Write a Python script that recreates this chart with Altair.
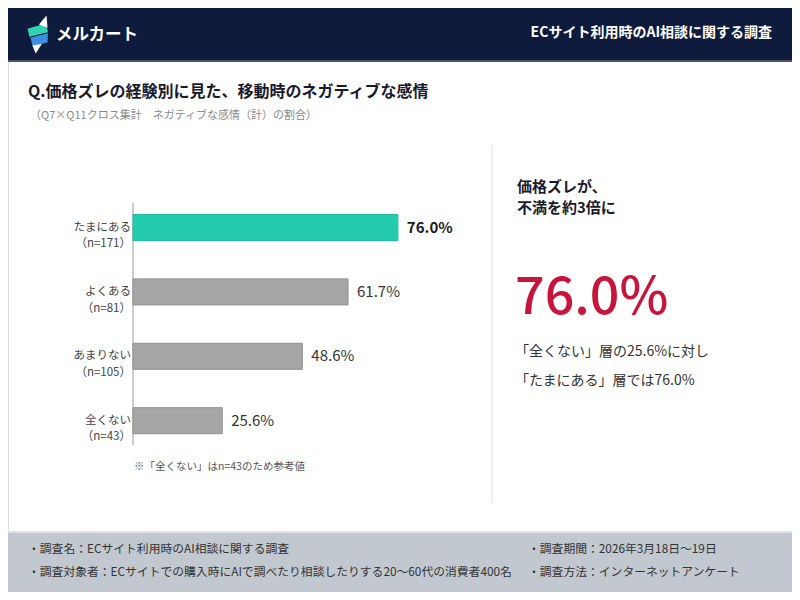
import altair as alt
import pandas as pd

FONT = "Noto Sans CJK JP"
O = 8  # page margin offset (screen coords -> chart coords)

# ---------------- data ----------------
categories = ["たまにある", "よくある", "あまりない", "全くない"]
sample_sizes = ["（n=171）", "（n=81）", "（n=105）", "（n=43）"]
values = [76.0, 61.7, 48.6, 25.6]
highlight = ["hi", "lo", "lo", "lo"]

header_title = "ECサイト利用時のAI相談に関する調査"
brand = "メルカート"
title = "Q.価格ズレの経験別に見た、移動時のネガティブな感情"
subtitle = "（Q7×Q11クロス集計　ネガティブな感情（計）の割合）"
note = "※「全くない」はn=43のため参考値"
side_head = ["価格ズレが、", "不満を約3倍に"]
side_big = "76.0%"
side_lines = ["「全くない」層の25.6%に対し", "「たまにある」層では76.0%"]
footer_left = ["・調査名：ECサイト利用時のAI相談に関する調査",
               "・調査対象者：ECサイトでの購入時にAIで調べたり相談したりする20〜60代の消費者400名"]
footer_right = ["・調査期間：2026年3月18日〜19日", "・調査方法：インターネットアンケート"]

df = pd.DataFrame({
    "cat": categories,
    "label": [c + "\n" + n for c, n in zip(categories, sample_sizes)],
    "value": values,
    "hl": highlight,
})
one = pd.DataFrame({"k": [0]})

xscale = alt.Scale(domain=[0, 100], range=[133 - O, 481.5 - O])
yscale = alt.Scale(range=[195.3 - O, 452.9 - O], paddingInner=0.596, paddingOuter=0.298)


def T(s, x, y, size, color, weight="normal", align="left", baseline="middle"):
    return alt.Chart(one).mark_text(
        text=s, align=align, baseline=baseline, fontSize=size, color=color,
        fontWeight=weight, font=FONT
    ).encode(x=alt.value(x - O), y=alt.value(y - O))


def R(x1, x2, y1, y2, color):
    return alt.Chart(one).mark_rect(color=color).encode(
        x=alt.value(x1 - O), x2=alt.value(x2 - O), y=alt.value(y1 - O), y2=alt.value(y2 - O)
    )


def ICON(path, cx, cy, size, color):
    return alt.Chart(one).mark_point(
        shape=path, size=size, filled=True, color=color, opacity=1, strokeWidth=0
    ).encode(x=alt.value(cx - O), y=alt.value(cy - O))


layers = []
# header
layers.append(R(8, 792, 8, 60, "#0f1b3d"))
layers.append(R(8, 792, 60, 62, "#4d5466"))
# logo icon
cx, cy, sz = 38, 34.5, 1444
layers.append(ICON("M-0.55,-0.30 L0.40,-0.58 L0.53,-0.12 L-0.45,0.12 Z", cx, cy, sz, "#2fd3b0"))
layers.append(ICON("M-0.40,0.16 L0.53,-0.06 L0.50,0.42 L-0.28,0.62 Z", cx, cy, sz, "#3a8fe0"))
layers.append(ICON("M0.05,-0.52 L0.45,-1.0 L0.50,-0.36 Z", cx, cy, sz, "#ffffff"))
layers.append(ICON("M-0.30,0.56 L-0.12,1.0 L0.20,0.50 Z", cx, cy, sz, "#ffffff"))
layers.append(T(brand, 56, 35, 16.5, "#ffffff", weight="bold"))
layers.append(T(header_title, 772, 33, 14, "#ffffff", weight="bold", align="right"))

# titles
layers.append(T(title, 28, 92, 16, "#1a1a2e", weight="bold"))
layers.append(T(subtitle, 30, 116, 11, "#8a8a8a"))

# divider
layers.append(R(491.5, 492.5, 145, 503, "#dedede"))
# axis line
layers.append(R(132.5, 133.5, 203, 445, "#999999"))

# bars
bars = alt.Chart(df).mark_bar(strokeWidth=1).encode(
    x=alt.X("value:Q", scale=xscale, axis=None),
    y=alt.Y("cat:N", sort=categories, scale=yscale, axis=None),
    color=alt.Color("hl:N", scale=alt.Scale(domain=["hi", "lo"], range=["#24cbad", "#a6a6a6"]), legend=None),
    stroke=alt.Stroke("hl:N", scale=alt.Scale(domain=["hi", "lo"], range=["#1fbd9f", "#8e8e8e"]), legend=None),
)
layers.append(bars)

ylabels = alt.Chart(df).mark_text(
    align="right", baseline="middle", lineBreak="\n", lineHeight=16.8, fontSize=11.5,
    color="#444444", font=FONT
).encode(
    y=alt.Y("cat:N", sort=categories, scale=yscale, axis=None),
    x=alt.value(131 - O),
    text="label:N",
)
layers.append(ylabels)

vbase = alt.Chart(df).transform_calculate(txt="format(datum.value, '.1f') + '%'")
vhi = vbase.transform_filter("datum.hl == 'hi'").mark_text(
    align="left", baseline="middle", dx=9, fontSize=15, fontWeight="bold", color="#1a1a1a", font=FONT
).encode(
    x=alt.X("value:Q", scale=xscale, axis=None),
    y=alt.Y("cat:N", sort=categories, scale=yscale, axis=None),
    text="txt:N",
)
vlo = vbase.transform_filter("datum.hl == 'lo'").mark_text(
    align="left", baseline="middle", dx=9, fontSize=15, color="#333333", font=FONT
).encode(
    x=alt.X("value:Q", scale=xscale, axis=None),
    y=alt.Y("cat:N", sort=categories, scale=yscale, axis=None),
    text="txt:N",
)
layers += [vhi, vlo]

layers.append(T(note, 134, 467, 10.5, "#555555"))

# side panel
layers.append(T(side_head[0], 517, 186.5, 15, "#1a1a2e", weight="bold"))
layers.append(T(side_head[1], 517, 207.5, 15, "#1a1a2e", weight="bold"))
layers.append(T(side_big, 515, 314, 52, "#c8153c", weight=500, baseline="alphabetic"))
layers.append(T(side_lines[0], 515, 352, 14, "#333333"))
layers.append(T(side_lines[1], 515, 381, 14, "#333333"))

# footer
layers.append(R(8, 792, 532, 592, "#c2c8cf"))
layers.append(R(8, 792, 531, 533, "#dfe3e7"))
layers.append(T(footer_left[0], 28, 549, 11.8, "#333333"))
layers.append(T(footer_left[1], 28, 572, 11.8, "#333333"))
layers.append(T(footer_right[0], 528, 549, 11.8, "#333333"))
layers.append(T(footer_right[1], 528, 572, 11.8, "#333333"))

chart = alt.layer(*layers).properties(
    width=784, height=584, padding=0,
    autosize=alt.AutoSizeParams(type="none"),
).configure_view(stroke=None).configure(font=FONT)

chart.save("out.html", embed_options={"renderer": "svg", "actions": False})
